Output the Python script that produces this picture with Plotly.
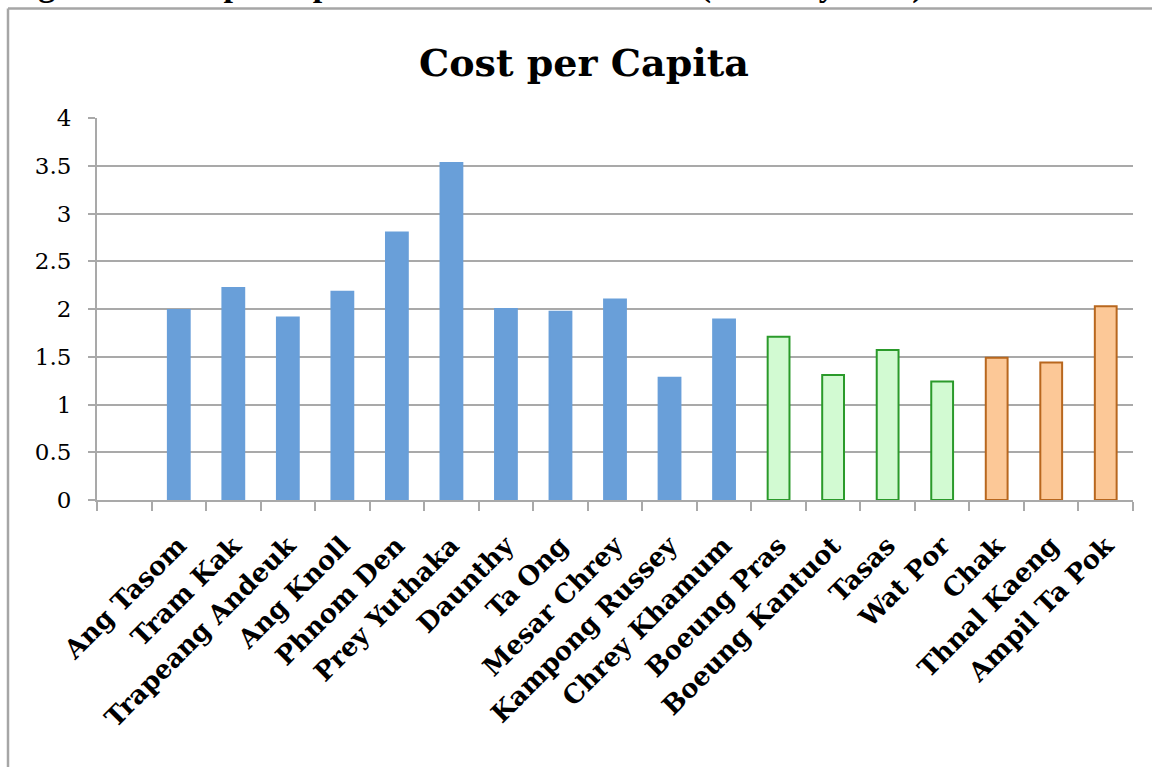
import plotly.graph_objects as go

communes = ["Ang Tasom", "Tram Kak", "Trapeang Andeuk", "Ang Knoll", "Phnom Den",
            "Prey Yuthaka", "Daunthy", "Ta Ong", "Mesar Chrey", "Kampong Russey",
            "Chrey Khamum", "Boeung Pras", "Boeung Kantuot", "Tasas", "Wat Por",
            "Chak", "Thnal Kaeng", "Ampil Ta Pok"]
cost_per_capita = [1.99, 2.22, 1.91, 2.18, 2.80, 3.53, 2.00, 1.97, 2.10, 1.28,
                   1.89, 1.71, 1.31, 1.57, 1.24, 1.49, 1.44, 2.03]
group = ["A"] * 11 + ["B"] * 4 + ["C"] * 3
y_ticks = [0, 0.5, 1, 1.5, 2, 2.5, 3, 3.5, 4]
y_tick_labels = ["0", "0.5", "1", "1.5", "2", "2.5", "3", "3.5", "4"]

fill = {"A": "#699fd9", "B": "#d2fad2", "C": "#fcc897"}
edge = {"A": "#699fd9", "B": "#2a9a2a", "C": "#b8671e"}

x = [" "] + communes
y = [None] + cost_per_capita
fills = ["#ffffff"] + [fill[g] for g in group]
edges = ["#ffffff"] + [edge[g] for g in group]

L, R, T, B = 97, 1133, 118, 500
W, H = R - L, B - T
def px(v): return (v - L) / W
def py(v): return (B - v) / H

fig = go.Figure(go.Bar(
    x=x, y=y, width=0.4,
    marker=dict(color=fills, line=dict(color=edges, width=2)),
))

serif = "DejaVu Serif"
grid = "#a9a9a9"
fig.update_layout(
    width=1152, height=767,
    margin=dict(l=L, r=1152 - R, t=T, b=767 - B),
    paper_bgcolor="white", plot_bgcolor="white",
    showlegend=False,
    xaxis=dict(type="category", categoryorder="array", categoryarray=x,
               showline=True, linecolor=grid, linewidth=2,
               ticks="outside", tickson="boundaries", ticklen=9, tickwidth=2, tickcolor=grid,
               tickangle=-45, showgrid=False, ticklabelstandoff=18,
               tickfont=dict(family=serif, size=26, color="black", weight="bold")),
    yaxis=dict(range=[0, 4], tickvals=y_ticks, ticktext=y_tick_labels,
               showline=True, linecolor=grid, linewidth=2,
               showgrid=True, gridcolor=grid, gridwidth=2,
               ticks="outside", ticklen=7, tickwidth=2, tickcolor=grid,
               zeroline=False, ticklabelstandoff=12,
               tickfont=dict(family=serif, size=23, color="black")),
    annotations=[
        dict(text="Cost per Capita", xref="paper", yref="paper",
             x=px(584), y=py(62), xanchor="center", yanchor="middle", showarrow=False,
             font=dict(family=serif, size=38, color="black", weight="bold")),
        dict(text="Figure 5: Cost per capita of selected communes (Monthly 2013)",
             xref="paper", yref="paper", x=px(6), y=py(5.5), xanchor="left", yanchor="bottom",
             showarrow=False,
             font=dict(family="Liberation Serif", size=34, color="black", weight="bold")),
    ],
    shapes=[
        dict(type="line", xref="paper", yref="paper", x0=px(8), x1=px(1170), y0=py(8.5), y1=py(8.5),
             line=dict(color="#a6a6a6", width=2.5)),
        dict(type="line", xref="paper", yref="paper", x0=px(8), x1=px(8), y0=py(8.5), y1=py(790),
             line=dict(color="#a6a6a6", width=2.5)),
    ],
)

fig.write_html("out.html")
